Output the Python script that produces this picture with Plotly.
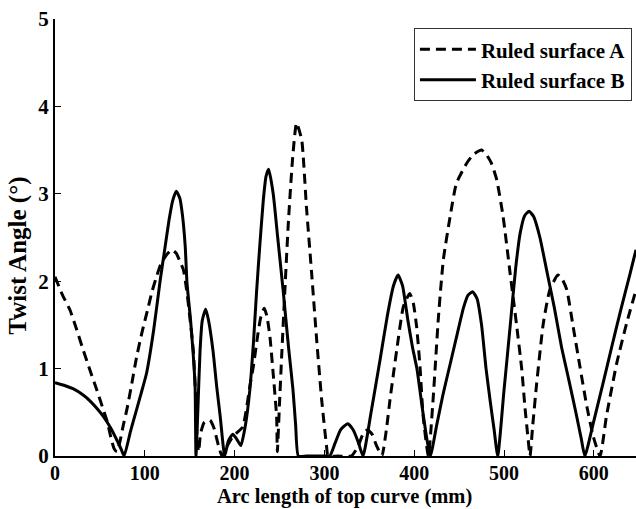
import plotly.graph_objects as go

# Ruled surface A (dashed)
xa = [0, 8, 16.7, 24, 31.5, 39, 46.4, 53.8, 58, 63, 66, 69, 72, 76, 80, 85, 91, 97, 104, 108, 113,
      118, 124, 130, 135, 139, 143, 146.6, 150, 154, 156.5, 158.5,
      160, 162, 166, 172.6, 177, 182, 186,
      192, 198, 203, 209, 213.5, 217, 220.8, 226, 229, 233, 236, 239.4, 242.9, 246.8, 247.6,
      250, 252.4, 256, 259.8, 264.7, 269, 274.7, 280, 285.8, 291.4, 297, 302.5, 304,
      315, 330, 337, 343, 348, 353, 358, 364,
      369, 373, 380.5, 388, 395, 399, 402.7, 406.5, 410, 415.8,
      421, 427, 432.4, 440, 447, 458.5, 466, 475, 481, 486, 491.9, 499, 506.7, 514, 519.7, 523.4, 527, 529,
      532, 536.4, 543.8, 551, 560, 565, 570, 577, 584.6, 592.4, 599.5, 607,
      614, 625.5, 636.6, 647]
ya = [2.05, 1.85, 1.67, 1.45, 1.21, 0.98, 0.76, 0.53, 0.4, 0.18, 0.08, 0.05, 0.15, 0.35, 0.53, 0.8, 1.14, 1.42, 1.71, 1.88, 2.05,
      2.2, 2.3, 2.36, 2.32, 2.23, 2.13, 1.9, 1.6, 1.21, 0.7, 0.15,
      0.05, 0.25, 0.38, 0.41, 0.32, 0.12, 0.0,
      0.12, 0.22, 0.27, 0.33, 0.56, 0.8, 1.02, 1.4, 1.58, 1.69, 1.6, 1.36, 0.95, 0.45, 0.05,
      0.6, 1.14, 1.9, 2.66, 3.42, 3.81, 3.62, 2.85, 2.09, 1.33, 0.64, 0.1, 0.0,
      0.0, 0.0, 0.1, 0.25, 0.3, 0.25, 0.12, 0.0,
      0.3, 0.64, 1.21, 1.71, 1.86, 1.75, 1.48, 1.02, 0.45, 0.0,
      0.64, 1.59, 2.24, 2.74, 3.12, 3.35, 3.45, 3.5, 3.44, 3.35, 3.16, 2.74, 2.1, 1.5, 1.0, 0.55, 0.18, 0.0,
      0.35, 0.83, 1.52, 1.9, 2.07, 2.02, 1.9, 1.48, 1.02, 0.56, 0.22, 0.0,
      0.45, 1.06, 1.52, 1.9]

# Ruled surface B (solid)
xb = [0, 10, 20, 31, 40, 47, 54, 62, 69, 74, 77,
      84, 90, 96, 102, 110, 117, 122, 127, 131, 135, 139, 142, 145, 147, 151, 154, 156, 157,
      159, 161.5, 164, 167.8, 171, 176, 180, 184, 189,
      193, 198, 202, 207, 212, 217, 221, 224.6, 228, 232, 235, 238, 243, 248, 254, 260, 265, 268, 271,
      280, 290, 300, 306, 312, 318, 326, 332, 338, 343,
      352, 362, 370, 377, 382, 387, 393, 398, 403, 409, 414, 418,
      425, 432, 440, 448, 455, 460, 465, 470, 475, 480, 485, 489, 493,
      500, 507, 513, 518, 523, 528, 533, 540, 548, 556, 564, 572, 580, 586, 590,
      600, 610, 620, 630, 640, 647]
yb = [0.84, 0.81, 0.77, 0.70, 0.62, 0.54, 0.45, 0.32, 0.18, 0.07, 0.0,
      0.28, 0.5, 0.72, 0.95, 1.45, 2.0, 2.35, 2.7, 2.92, 3.03, 2.95, 2.75, 2.4, 1.98, 1.55, 1.15, 0.8, 0.0,
      0.5, 1.2, 1.55, 1.68, 1.55, 1.2, 0.8, 0.45, 0.0,
      0.17, 0.25, 0.2, 0.12, 0.35, 0.76, 1.3, 1.9, 2.4, 2.93, 3.2, 3.28, 3.0, 2.5, 1.9, 1.25, 0.76, 0.35, 0.0,
      0.0, 0.0, 0.0, 0.0, 0.15, 0.3, 0.37, 0.3, 0.15, 0.0,
      0.5, 1.1, 1.6, 1.95, 2.07, 1.95, 1.55, 1.25, 1.0, 0.55, 0.2, 0.0,
      0.35, 0.7, 1.05, 1.4, 1.7, 1.84, 1.88, 1.8, 1.5, 1.0, 0.6, 0.3, 0.0,
      0.75, 1.5, 2.15, 2.55, 2.75, 2.8, 2.74, 2.5, 2.1, 1.7, 1.25, 0.88, 0.5, 0.2, 0.0,
      0.4, 0.82, 1.25, 1.67, 2.07, 2.36]

x_ticks = [0, 100, 200, 300, 400, 500, 600]
y_ticks = [0, 1, 2, 3, 4, 5]

FONT = "Liberation Serif, Times New Roman, serif"

fig = go.Figure()
fig.add_trace(go.Scatter(x=xa, y=ya, mode="lines", name="Ruled surface A",
                         line=dict(color="black", width=3, dash="10px,6px",
                                   shape="spline", smoothing=0.5)))
fig.add_trace(go.Scatter(x=xb, y=yb, mode="lines", name="Ruled surface B",
                         line=dict(color="black", width=3,
                                   shape="spline", smoothing=0.5)))

fig.update_layout(
    width=636, height=509,
    margin=dict(l=55, r=0, t=19, b=53),
    paper_bgcolor="white", plot_bgcolor="white",
    font=dict(family=FONT, color="black", size=20, weight="bold"),
    showlegend=True,
    legend=dict(x=0.993, y=0.979, xanchor="right", yanchor="top",
                bgcolor="white", bordercolor="#333", borderwidth=1,
                font=dict(family=FONT, size=21, color="black", weight="bold"),
                tracegroupgap=0, itemwidth=56),
    xaxis=dict(range=[0, 647], tickvals=x_ticks, ticks="inside", ticklen=6,
               tickcolor="black", showline=True, linecolor="black", linewidth=2,
               showgrid=False, zeroline=False,
               tickfont=dict(family=FONT, size=20, weight="bold")),
    yaxis=dict(range=[0, 5], tickvals=y_ticks, ticks="inside", ticklen=6,
               tickcolor="black", showline=True, linecolor="black", linewidth=2,
               showgrid=False, zeroline=False,
               tickfont=dict(family=FONT, size=21, weight="bold")),
    annotations=[
        dict(text="Twist Angle (°)", textangle=-90, showarrow=False,
             xref="paper", yref="paper", x=-0.064, y=0.458,
             xanchor="center", yanchor="middle",
             font=dict(family=FONT, size=25, weight="bold", color="black")),
        dict(text="Arc length of top curve (mm)", showarrow=False,
             xref="paper", yref="paper", x=0.499, y=-0.1213,
             xanchor="center", yanchor="bottom", borderpad=0,
             font=dict(family=FONT, size=20.5, weight="bold", color="black")),
    ],
)

try:
    fig.update_xaxes(ticklabelstandoff=-2)
except ValueError:
    pass

fig.write_html("out.html")
